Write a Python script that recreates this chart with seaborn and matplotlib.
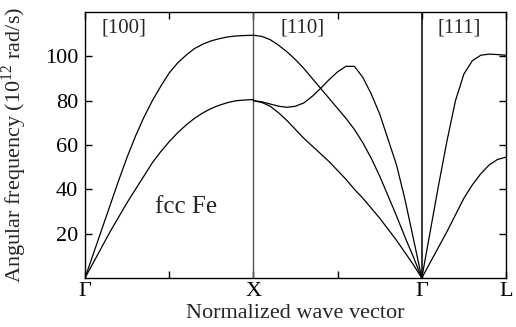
import numpy as np
import pandas as pd
import matplotlib
matplotlib.use("Agg")
import matplotlib.pyplot as plt
import seaborn as sns

# Phonon dispersion of fcc Fe along Γ-X, X-Γ ([110]) and Γ-L
# Normalized wave vector positions of the symmetry points
sym_pos = [0.0, 1.0, 2.0, 2.5]
sym_labels = ["Γ", "X", "Γ", "L"]

# [100] direction, Γ -> X
q_100 = [0.00, 0.05, 0.10, 0.15, 0.20, 0.25, 0.30, 0.35, 0.40, 0.45, 0.50,
         0.55, 0.60, 0.65, 0.70, 0.75, 0.80, 0.85, 0.90, 0.95, 1.00]
w_100_L = [0.0, 11.0, 22.0, 33.0, 44.0, 54.5, 64.0, 72.5, 80.0, 86.5, 92.5,
           97.0, 100.5, 103.5, 105.5, 107.0, 108.0, 108.8, 109.2, 109.4, 109.5]
w_100_T = [0.0, 7.0, 14.0, 21.0, 27.5, 34.0, 40.0, 46.0, 52.0, 57.0, 61.5,
           65.5, 69.0, 72.0, 74.5, 76.5, 78.0, 79.2, 80.0, 80.3, 80.5]

# [110] direction, X -> Γ
q_110 = [1.00, 1.05, 1.10, 1.15, 1.20, 1.25, 1.30, 1.35, 1.40, 1.45, 1.50,
         1.55, 1.60, 1.65, 1.70, 1.75, 1.80, 1.85, 1.90, 1.95, 2.00]
w_110_L = [109.5, 109.0, 107.5, 105.0, 102.0, 98.5, 94.5, 90.0, 85.5, 81.0, 76.5,
           72.0, 67.0, 61.0, 54.0, 46.0, 37.0, 28.0, 18.5, 9.5, 0.0]
w_110_T1 = [80.0, 79.5, 78.5, 77.5, 77.0, 77.5, 79.0, 82.0, 85.6, 89.5, 93.0,
            95.5, 95.5, 90.5, 83.0, 74.0, 62.5, 51.0, 35.5, 17.8, 0.0]
w_110_T2 = [80.0, 79.2, 77.5, 74.5, 71.0, 67.0, 63.0, 59.5, 56.0, 52.5, 48.5,
            44.5, 40.0, 36.0, 31.5, 27.0, 22.0, 17.0, 11.5, 6.0, 0.0]

# [111] direction, Γ -> L
q_111 = [2.00, 2.05, 2.10, 2.15, 2.20, 2.25, 2.30, 2.35, 2.40, 2.45, 2.50]
w_111_L = [0.0, 21.0, 42.0, 62.0, 80.0, 92.0, 98.0, 100.5, 101.0, 100.8, 100.5]
w_111_T = [0.0, 7.0, 14.0, 21.0, 28.5, 36.0, 42.0, 47.0, 51.0, 53.5, 54.5]

branches = {
    "100L": (q_100, w_100_L),
    "100T": (q_100, w_100_T),
    "110L": (q_110, w_110_L),
    "110T1": (q_110, w_110_T1),
    "110T2": (q_110, w_110_T2),
    "111L": (q_111, w_111_L),
    "111T": (q_111, w_111_T),
}
df = pd.concat(
    [pd.DataFrame({"q": q, "omega": w, "branch": name}) for name, (q, w) in branches.items()],
    ignore_index=True,
)

sns.set_style("ticks")
plt.rcParams["font.family"] = ["Liberation Serif", "DejaVu Serif"]
plt.rcParams["mathtext.fontset"] = "custom"
plt.rcParams["mathtext.rm"] = "Liberation Serif"

fig = plt.figure(figsize=(5.16, 3.27), dpi=100)
ax = fig.add_axes([0.1647, 0.1498, 0.8159, 0.8135])

sns.lineplot(data=df, x="q", y="omega", units="branch", estimator=None,
             sort=False, color="black", linewidth=0.9, ax=ax)

# separators at X and Γ
ax.axvline(1.0, color="#555555", lw=1.0, zorder=1)
ax.axvline(2.0, color="black", lw=1.1, zorder=1)

ax.set_xlim(0, 2.5)
ax.set_ylim(0, 120)
ax.set_xticks(sym_pos)
ax.set_xticklabels(sym_labels)
ax.set_xticks([0.5, 1.5], minor=True)
ax.set_yticks([20, 40, 60, 80, 100])

ax.tick_params(axis="both", which="both", direction="in", top=True, right=True,
               labelsize=16, width=1.0, colors="black")
ax.tick_params(axis="both", which="major", length=5)
ax.tick_params(axis="x", which="minor", length=5)
ax.tick_params(axis="y", which="major", pad=5)
ax.tick_params(axis="x", which="major", pad=3)

for s in ax.spines.values():
    s.set_linewidth(1.0)
    s.set_color("black")

ax.set_xlabel("Normalized wave vector", fontsize=16, labelpad=2)
ax.set_ylabel("Angular frequency (10$^{12}$ rad/s)", fontsize=16, labelpad=11)

ax.text(0.23, 113, "[100]", fontsize=15, ha="center", va="center")
ax.text(1.29, 113, "[110]", fontsize=15, ha="center", va="center")
ax.text(2.22, 113, "[111]", fontsize=15, ha="center", va="center")
ax.text(0.60, 32, "fcc Fe", fontsize=18, ha="center", va="center")

fig.savefig("out.png", dpi=100)
